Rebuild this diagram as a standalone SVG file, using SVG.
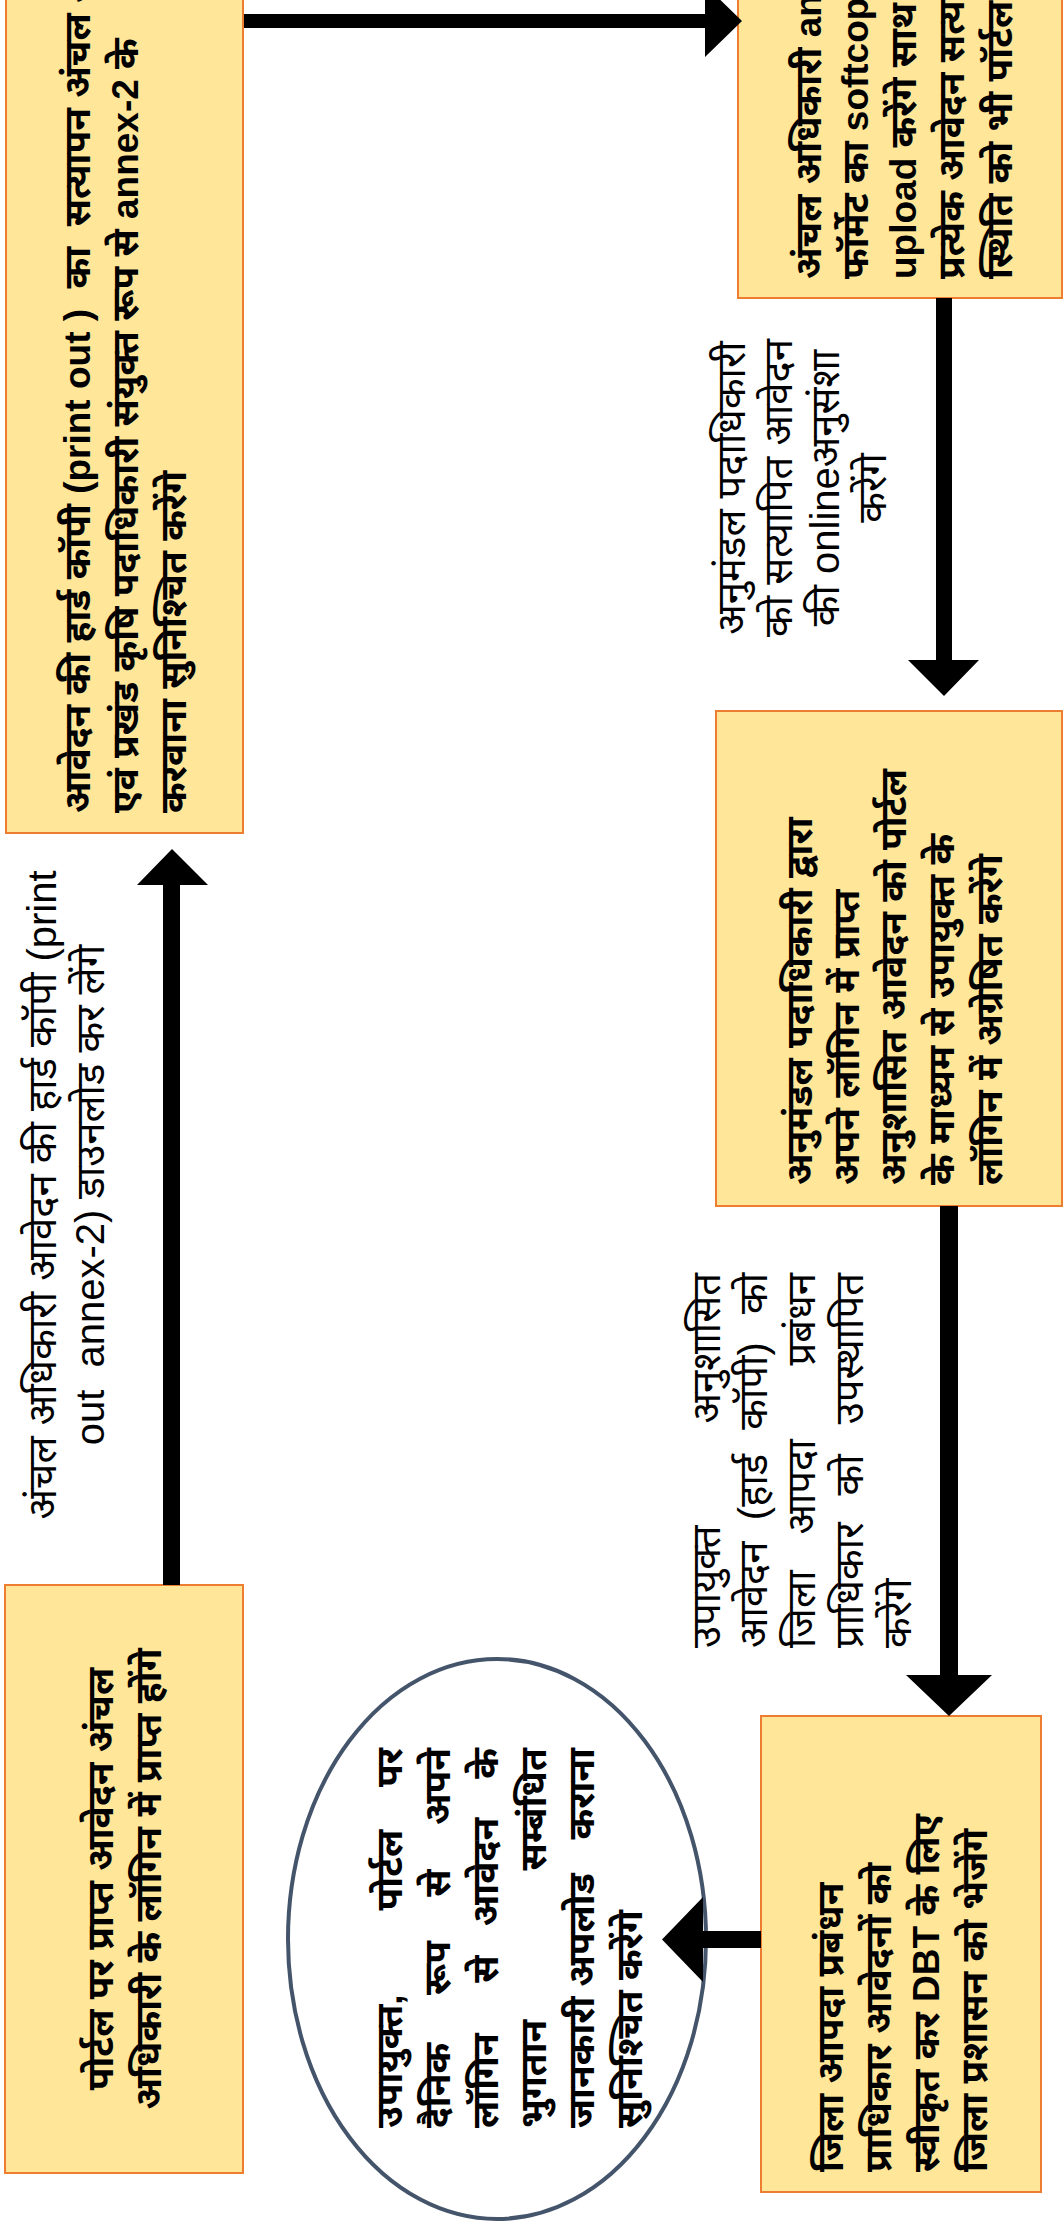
<svg xmlns="http://www.w3.org/2000/svg" width="1064" height="2223" viewBox="0 0 1064 2223">
<style>
.box{fill:#FFE699;stroke:#ED7D31;stroke-width:2}
.bt{font-family:"Liberation Sans","Noto Sans",sans-serif;font-weight:bold;font-size:37px;fill:#000}
.lt{font-family:"Liberation Sans","Noto Sans",sans-serif;font-size:40px;fill:#000}
.arr{fill:#000}
.mid{text-anchor:middle}
.end{text-anchor:end}
</style>
<rect width="1064" height="2223" fill="#fff"/>
<g id="label-E-A" class="lt">
<text class="mid" transform="translate(56,1195) rotate(-90)">अंचल अधिकारी आवेदन की हार्ड कॉपी (print</text>
<text class="mid" transform="translate(104,1195) rotate(-90)" xml:space="preserve">out  annex-2) डाउनलोड कर लेंगे</text>
</g>
<g id="label-B-C" class="lt">
<text class="mid" transform="translate(745,488) rotate(-90)">अनुमंडल पदाधिकारी</text>
<text class="mid" transform="translate(792,488) rotate(-90)">को सत्यापित आवेदन</text>
<text class="mid" transform="translate(839,488) rotate(-90)">की onlineअनुसंशा</text>
<text class="mid" transform="translate(886,488) rotate(-90)">करेंगे</text>
</g>
<g id="label-C-D" class="lt">
<text transform="translate(720,1648) rotate(-90)">उपायुक्त</text>
<text class="end" transform="translate(720,1273) rotate(-90)">अनुशासित</text>
<text transform="translate(767,1648) rotate(-90)">आवेदन</text>
<text class="mid" transform="translate(767,1487) rotate(-90)">(हार्ड</text>
<text class="mid" transform="translate(767,1386) rotate(-90)">कॉपी)</text>
<text class="end" transform="translate(767,1273) rotate(-90)">को</text>
<text transform="translate(815,1648) rotate(-90)">जिला</text>
<text class="mid" transform="translate(815,1487) rotate(-90)">आपदा</text>
<text class="end" transform="translate(815,1273) rotate(-90)">प्रबंधन</text>
<text transform="translate(863,1648) rotate(-90)">प्राधिकार</text>
<text class="mid" transform="translate(863,1475) rotate(-90)">को</text>
<text class="end" transform="translate(863,1273) rotate(-90)">उपस्थापित</text>
<text transform="translate(911,1648) rotate(-90)">करेंगे</text>
</g>
<g id="node-A">
<rect class="box" x="6" y="-10" width="237" height="843"/>
<g class="bt">
<text transform="translate(90,813) rotate(-90)" xml:space="preserve">आवेदन की हार्ड कॉपी (print out )  का  सत्यापन अंचल अधिकारी</text>
<text transform="translate(138,813) rotate(-90)">एवं प्रखंड कृषि पदाधिकारी संयुक्त रूप से annex-2 के</text>
<text transform="translate(186,813) rotate(-90)">करवाना सुनिश्चित करेंगे</text>
</g>
</g>
<g id="node-B">
<rect class="box" x="738" y="-10" width="324" height="308"/>
<g class="bt">
<text transform="translate(821,279) rotate(-90)">अंचल अधिकारी annex-2</text>
<text transform="translate(868,279) rotate(-90)">फॉर्मेट का softcopy</text>
<text transform="translate(916,279) rotate(-90)">upload करेंगे साथ ही</text>
<text transform="translate(964,279) rotate(-90)">प्रत्येक आवेदन सत्यापन</text>
<text transform="translate(1012,279) rotate(-90)">स्थिति को भी पॉर्टल पर</text>
</g>
</g>
<g id="node-C">
<rect class="box" x="716" y="711" width="346" height="495"/>
<g class="bt">
<text transform="translate(812,1185) rotate(-90)">अनुमंडल पदाधिकारी द्वारा</text>
<text transform="translate(859,1185) rotate(-90)">अपने लॉगिन में प्राप्त</text>
<text transform="translate(906,1185) rotate(-90)">अनुशासित आवेदन को पोर्टल</text>
<text transform="translate(954,1185) rotate(-90)">के माध्यम से उपायुक्त के</text>
<text transform="translate(1002,1185) rotate(-90)">लॉगिन में अग्रेषित करेंगे</text>
</g>
</g>
<g id="node-D">
<rect class="box" x="761" y="1716" width="280" height="476"/>
<g class="bt">
<text transform="translate(843,2172) rotate(-90)">जिला आपदा प्रबंधन</text>
<text transform="translate(891,2172) rotate(-90)">प्राधिकार आवेदनों को</text>
<text transform="translate(939,2172) rotate(-90)">स्वीकृत कर DBT के लिए</text>
<text transform="translate(987,2172) rotate(-90)">जिला प्रशासन को भेजेंगे</text>
</g>
</g>
<g id="node-E">
<rect class="box" x="5" y="1585" width="238" height="588"/>
<g class="bt">
<text class="mid" transform="translate(113,1879) rotate(-90)">पोर्टल पर प्राप्त आवेदन अंचल</text>
<text class="mid" transform="translate(161,1879) rotate(-90)">अधिकारी के लॉगिन में प्राप्त होंगे</text>
</g>
</g>
<g id="node-F">
<ellipse cx="497" cy="1939" rx="209" ry="280" fill="#fff" stroke="#44546A" stroke-width="4"/>
<g class="bt">
<text transform="translate(402,2128) rotate(-90)">उपायुक्त,</text>
<text class="mid" transform="translate(402,1870) rotate(-90)">पोर्टल</text>
<text class="end" transform="translate(402,1748) rotate(-90)">पर</text>
<text transform="translate(450,2128) rotate(-90)">दैनिक</text>
<text class="mid" transform="translate(450,1968) rotate(-90)">रूप</text>
<text class="mid" transform="translate(450,1883) rotate(-90)">से</text>
<text class="end" transform="translate(450,1748) rotate(-90)">अपने</text>
<text transform="translate(498,2128) rotate(-90)">लॉगिन</text>
<text class="mid" transform="translate(498,1969) rotate(-90)">से</text>
<text class="mid" transform="translate(498,1872) rotate(-90)">आवेदन</text>
<text class="end" transform="translate(498,1748) rotate(-90)">के</text>
<text transform="translate(546,2128) rotate(-90)">भुगतान</text>
<text class="end" transform="translate(546,1748) rotate(-90)">सम्बंधित</text>
<text transform="translate(594,2128) rotate(-90)">जानकारी</text>
<text class="mid" transform="translate(594,1930) rotate(-90)">अपलोड</text>
<text class="end" transform="translate(594,1748) rotate(-90)">कराना</text>
<text transform="translate(642,2128) rotate(-90)">सुनिश्चित करेंगे</text>
</g>
</g>
<g id="connectors">
<polygon class="arr" points="244,14 705,14 705,-15 742,21 705,57 705,28 244,28"/>
<polygon class="arr" points="936,298 952,298 952,660 979,660 944,696 908,660 936,660"/>
<polygon class="arr" points="940,1206 958,1206 958,1675 992,1675 949,1716 906,1675 940,1675"/>
<polygon class="arr" points="761,1931 761,1948 703,1948 703,1982 662,1939.5 703,1897 703,1931"/>
<polygon class="arr" points="163,1585 180,1585 180,885 208,885 172,849 137,885 163,885"/>
</g>
</svg>
